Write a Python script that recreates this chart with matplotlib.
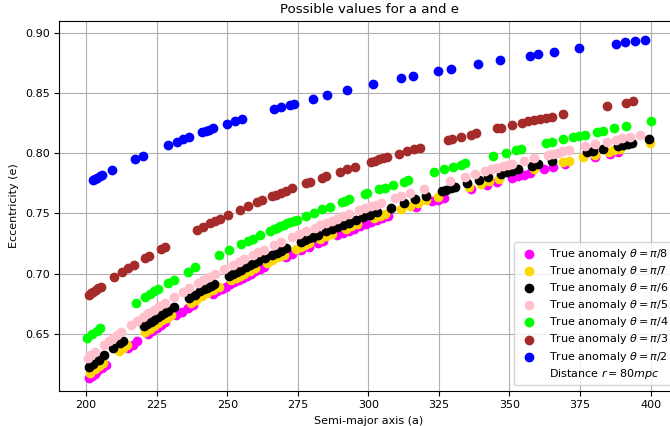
import matplotlib
matplotlib.use("Agg")
import matplotlib.pyplot as plt

plt.rcParams['font.family'] = ['DejaVu Sans']
plt.rcParams['font.size'] = 8

# theta = pi/2 (blue)
a_pi2 = [202.4, 203.2, 204.0, 204.9, 205.6, 209.3, 217.3, 220.2, 229.1, 232.2, 234.4, 236.6,
         241.2, 242.5, 243.6, 244.8, 249.8, 252.6, 255.1, 266.4, 269.2, 272.1, 273.6, 280.3,
         285.2, 292.3, 301.8, 311.6, 315.8, 324.7, 329.3, 338.9, 346.6, 357.3, 360.2, 365.9,
         374.8, 387.6, 391.1, 394.5, 398.0]
e_pi2 = [0.7777, 0.7787, 0.7797, 0.7808, 0.7816, 0.7860, 0.7949, 0.7979, 0.8067, 0.8096, 0.8116, 0.8136,
         0.8175, 0.8186, 0.8195, 0.8205, 0.8245, 0.8266, 0.8285, 0.8365, 0.8383, 0.8402, 0.8412, 0.8453,
         0.8482, 0.8522, 0.8573, 0.8621, 0.8641, 0.8681, 0.8701, 0.8740, 0.8770, 0.8810, 0.8820, 0.8839,
         0.8869, 0.8908, 0.8919, 0.8929, 0.8939]

# theta = pi/3 (brown)
a_pi3 = [201.0, 201.8, 202.6, 203.4, 204.2, 205.2, 209.8, 212.8, 214.8, 216.8, 221.0, 222.2, 226.5,
         228.0,
         239.2, 241.5, 243.9, 245.6, 247.4, 250.4, 254.5, 257.3, 260.6, 262.2, 265.7, 267.3, 268.9,
         270.8, 273.1, 278.0, 279.3, 283.5, 284.9, 289.8, 292.6, 295.4, 300.9, 302.3, 303.7, 305.1,
         306.5, 310.7, 313.7, 316.2, 318.3, 328.1, 329.5, 332.9, 336.4, 338.1, 345.5, 347.1, 351.0,
         354.5, 356.6, 358.7, 360.8, 362.9, 364.9, 368.8, 384.4, 391.4, 393.8]
e_pi3 = [0.6826, 0.6839, 0.6852, 0.6865, 0.6878, 0.6894, 0.6970, 0.7014, 0.7044, 0.7073, 0.7133, 0.7149, 0.7206,
         0.7226,
         0.7364, 0.7391, 0.7417, 0.7436, 0.7456, 0.7489, 0.7531, 0.7559, 0.7593, 0.7608, 0.7641, 0.7656, 0.7671,
         0.7688, 0.7708, 0.7750, 0.7761, 0.7795, 0.7807, 0.7846, 0.7868, 0.7889, 0.7929, 0.7939, 0.7948, 0.7957,
         0.7967, 0.7995, 0.8016, 0.8032, 0.8047, 0.8106, 0.8114, 0.8134, 0.8155, 0.8165, 0.8205, 0.8213, 0.8234,
         0.8252, 0.8263, 0.8274, 0.8285, 0.8294, 0.8304, 0.8322, 0.8392, 0.8420, 0.8429]

# theta = pi/4 (green)
a_pi4 = [200.3, 202.2, 203.8, 205.0, 217.8, 221.0, 222.5, 224.0, 225.5, 229.0, 231.0, 236.0, 238.6,
         247.2, 250.6, 254.8, 257.2, 259.0, 261.7, 265.2, 266.4, 267.6, 268.8, 270.0, 271.2, 272.4,
         273.6, 274.6, 278.0,
         280.7, 283.5, 286.3, 290.5, 291.9, 293.3, 298.8, 299.5, 303.7, 305.8, 308.6, 312.5, 313.9,
         323.2, 326.7, 329.9, 332.9, 334.3, 344.1, 348.9, 352.4, 354.2, 362.9, 364.9, 368.8, 372.6,
         374.7, 376.8, 381.0, 383.0, 387.2, 391.4, 400.0]
e_pi4 = [0.6465, 0.6499, 0.6527, 0.6548, 0.6760, 0.6809, 0.6831, 0.6853, 0.6874, 0.6925, 0.6952, 0.7018, 0.7053,
         0.7158, 0.7199, 0.7245, 0.7272, 0.7292, 0.7321, 0.7357, 0.7369, 0.7381, 0.7394, 0.7406, 0.7418, 0.7429,
         0.7441, 0.7450, 0.7483,
         0.7508, 0.7533, 0.7557, 0.7594, 0.7606, 0.7617, 0.7662, 0.7668, 0.7700, 0.7715, 0.7736, 0.7765, 0.7775,
         0.7842, 0.7865, 0.7886, 0.7905, 0.7915, 0.7976, 0.8004, 0.8024, 0.8034, 0.8083, 0.8093, 0.8114, 0.8134,
         0.8144, 0.8155, 0.8177, 0.8186, 0.8205, 0.8225, 0.8265]

# theta = pi/5 (pink)
a_pi5 = [200.5, 201.5, 203.0, 206.5, 208.0, 209.5, 211.0, 212.5, 216.0, 218.0, 220.0, 222.0, 224.0,
         226.0, 228.0, 231.0, 234.5, 236.5, 239.5, 241.5, 243.5, 245.5, 249.0, 252.0, 254.0, 256.0,
         259.0, 261.0, 263.0, 266.5, 269.0, 273.0, 275.5, 278.0, 281.0, 283.0, 285.0, 287.0, 289.0,
         291.0, 293.0, 296.7, 298.8, 300.9, 302.7, 304.4, 309.3, 311.4, 314.8, 319.7, 328.8, 334.3,
         337.8, 341.3, 343.4, 345.5, 347.6, 349.6, 351.0, 355.2, 358.7, 363.6, 365.4, 367.2, 369.0,
         371.2, 376.8, 380.3, 384.4, 387.9, 390.0, 392.8, 396.3]
e_pi5 = [0.6304, 0.6322, 0.6349, 0.6413, 0.6440, 0.6467, 0.6493, 0.6517, 0.6575, 0.6608, 0.6641, 0.6671, 0.6701,
         0.6730, 0.6760, 0.6804, 0.6852, 0.6879, 0.6920, 0.6946, 0.6971, 0.6996, 0.7040, 0.7076, 0.7099, 0.7122,
         0.7157, 0.7179, 0.7200, 0.7238, 0.7264, 0.7305, 0.7329, 0.7354, 0.7383, 0.7402, 0.7421, 0.7439, 0.7458,
         0.7476, 0.7493, 0.7525, 0.7543, 0.7560, 0.7574, 0.7587, 0.7625, 0.7641, 0.7668, 0.7706, 0.7768, 0.7806,
         0.7830, 0.7853, 0.7866, 0.7878, 0.7891, 0.7903, 0.7912, 0.7937, 0.7958, 0.7985, 0.7995, 0.8005, 0.8015,
         0.8026, 0.8057, 0.8075, 0.8096, 0.8113, 0.8123, 0.8137, 0.8154]

# theta = pi/6 (black)
a_pi6 = [201.0, 202.5, 204.5, 206.5, 209.5, 212.0, 213.2, 220.5, 221.7, 222.9, 224.1, 225.3, 226.5,
         227.7, 229.0, 231.0, 236.5, 238.5, 240.5, 241.7, 242.9, 244.1, 245.3, 250.5, 252.0, 253.5,
         255.0, 256.5, 258.0, 259.5, 261.0, 263.5, 266.0, 267.5, 269.0, 271.0, 276.0, 277.5, 279.0,
         280.5, 282.0, 285.0, 287.0, 289.0, 291.0, 293.0, 295.5, 298.0, 300.5, 303.0, 307.9, 312.8,
         316.6, 320.4, 326.0, 327.6, 329.2, 330.8, 335.0, 339.2, 342.3, 346.9, 349.0, 351.0, 353.1,
         358.0, 360.1, 364.9, 377.5, 379.6, 383.0, 388.6, 390.3, 392.0, 393.5, 399.4]
e_pi6 = [0.6224, 0.6251, 0.6288, 0.6325, 0.6381, 0.6423, 0.6443, 0.6565, 0.6583, 0.6601, 0.6619, 0.6638, 0.6656,
         0.6674, 0.6694, 0.6723, 0.6799, 0.6827, 0.6854, 0.6870, 0.6885, 0.6900, 0.6916, 0.6982, 0.7000, 0.7017,
         0.7035, 0.7053, 0.7070, 0.7088, 0.7105, 0.7132, 0.7159, 0.7175, 0.7192, 0.7213, 0.7264, 0.7279, 0.7294,
         0.7309, 0.7323, 0.7352, 0.7371, 0.7390, 0.7408, 0.7425, 0.7447, 0.7469, 0.7490, 0.7510, 0.7549, 0.7588,
         0.7618, 0.7648, 0.7687, 0.7698, 0.7709, 0.7721, 0.7750, 0.7779, 0.7799, 0.7828, 0.7841, 0.7853, 0.7866,
         0.7897, 0.7910, 0.7936, 0.8006, 0.8018, 0.8035, 0.8063, 0.8072, 0.8080, 0.8088, 0.8117]

# theta = pi/7 (gold)
a_pi7 = [201.5, 203.0, 204.5, 206.0, 211.5, 213.0, 214.5, 221.0, 222.5, 224.0, 225.5, 227.0, 228.5,
         230.0, 237.0, 239.0, 241.0, 243.0, 245.0, 247.0, 251.5, 253.0, 254.5, 256.0, 258.0, 260.0,
         264.0, 266.0, 268.0, 270.0, 274.5, 276.0, 277.5, 279.0, 283.0, 285.0, 287.0, 292.0, 294.0,
         296.0, 302.0, 304.0, 306.0, 311.4, 314.8, 317.6, 320.4, 324.6, 335.7, 339.9, 342.7, 346.2,
         358.7, 369.1, 371.2, 376.1, 380.3, 385.2, 387.2, 389.3, 399.7]
e_pi7 = [0.6179, 0.6207, 0.6235, 0.6263, 0.6362, 0.6387, 0.6413, 0.6520, 0.6544, 0.6567, 0.6590, 0.6613, 0.6636,
         0.6659, 0.6758, 0.6786, 0.6813, 0.6839, 0.6865, 0.6891, 0.6948, 0.6966, 0.6984, 0.7001, 0.7025, 0.7049,
         0.7093, 0.7115, 0.7137, 0.7159, 0.7205, 0.7221, 0.7236, 0.7252, 0.7291, 0.7310, 0.7329, 0.7375, 0.7393,
         0.7410, 0.7462, 0.7478, 0.7494, 0.7538, 0.7565, 0.7588, 0.7610, 0.7640, 0.7719, 0.7748, 0.7766, 0.7788,
         0.7867, 0.7926, 0.7938, 0.7965, 0.7989, 0.8014, 0.8024, 0.8034, 0.8087]

# theta = pi/8 (magenta)
a_pi8 = [201.0, 202.0, 203.0, 204.0, 205.5, 207.0, 215.0, 216.5, 218.0, 222.0, 223.5, 225.0, 226.5,
         228.0, 232.0, 234.0, 236.0, 238.0, 245.0, 246.5, 248.0, 249.5, 251.0, 252.5, 254.0, 255.5,
         257.0, 258.5, 260.0, 261.5, 263.0, 271.0, 273.0, 276.0, 279.0, 282.0, 284.0, 289.0, 291.0,
         293.0, 295.0, 297.0, 299.0, 301.0, 303.0, 305.0, 307.0, 316.9, 322.5, 324.6, 326.7, 336.4,
         342.0, 345.5, 351.0, 353.1, 355.2, 357.3, 362.2, 365.6, 369.8, 380.3, 385.8, 388.6]
e_pi8 = [0.6135, 0.6153, 0.6172, 0.6191, 0.6219, 0.6247, 0.6388, 0.6413, 0.6439, 0.6504, 0.6527, 0.6550, 0.6573,
         0.6596, 0.6655, 0.6684, 0.6712, 0.6741, 0.6834, 0.6854, 0.6873, 0.6893, 0.6911, 0.6929, 0.6947, 0.6966,
         0.6984, 0.7002, 0.7020, 0.7037, 0.7053, 0.7141, 0.7162, 0.7193, 0.7224, 0.7253, 0.7272, 0.7320, 0.7339,
         0.7357, 0.7375, 0.7393, 0.7411, 0.7428, 0.7444, 0.7461, 0.7477, 0.7557, 0.7600, 0.7615, 0.7630, 0.7699,
         0.7738, 0.7760, 0.7795, 0.7808, 0.7821, 0.7835, 0.7865, 0.7884, 0.7908, 0.7968, 0.7996, 0.8010]

series = [
    (a_pi8, e_pi8, '#ff00ff', r'True anomaly $\theta = \pi/8$'),
    (a_pi7, e_pi7, '#ffd700', r'True anomaly $\theta = \pi/7$'),
    (a_pi6, e_pi6, 'black', r'True anomaly $\theta = \pi/6$'),
    (a_pi5, e_pi5, 'pink', r'True anomaly $\theta = \pi/5$'),
    (a_pi4, e_pi4, '#00ff00', r'True anomaly $\theta = \pi/4$'),
    (a_pi3, e_pi3, 'brown', r'True anomaly $\theta = \pi/3$'),
    (a_pi2, e_pi2, 'blue', r'True anomaly $\theta = \pi/2$'),
]

fig = plt.figure(figsize=(6.7, 4.26), dpi=100)
ax = fig.add_axes([59.3 / 670, 35.3 / 426, 619.5 / 670, 369.4 / 426])
for a, e, c, lab in series:
    ax.scatter(a, e, color=c, label=lab, s=36, zorder=3)
ax.plot([], [], ' ', label=r'Distance $r = 80mpc$')
ax.set_xlim(190.5, 410.0)
ax.set_ylim(0.603, 0.9094)
ax.grid(True)
ax.set_axisbelow(True)
ax.set_title('Possible values for a and e')
ax.set_xlabel('Semi-major axis (a)')
ax.set_ylabel('Eccentricity (e)')
ax.legend(loc='lower right', labelspacing=0.28)
fig.savefig('out.png', dpi=100)
